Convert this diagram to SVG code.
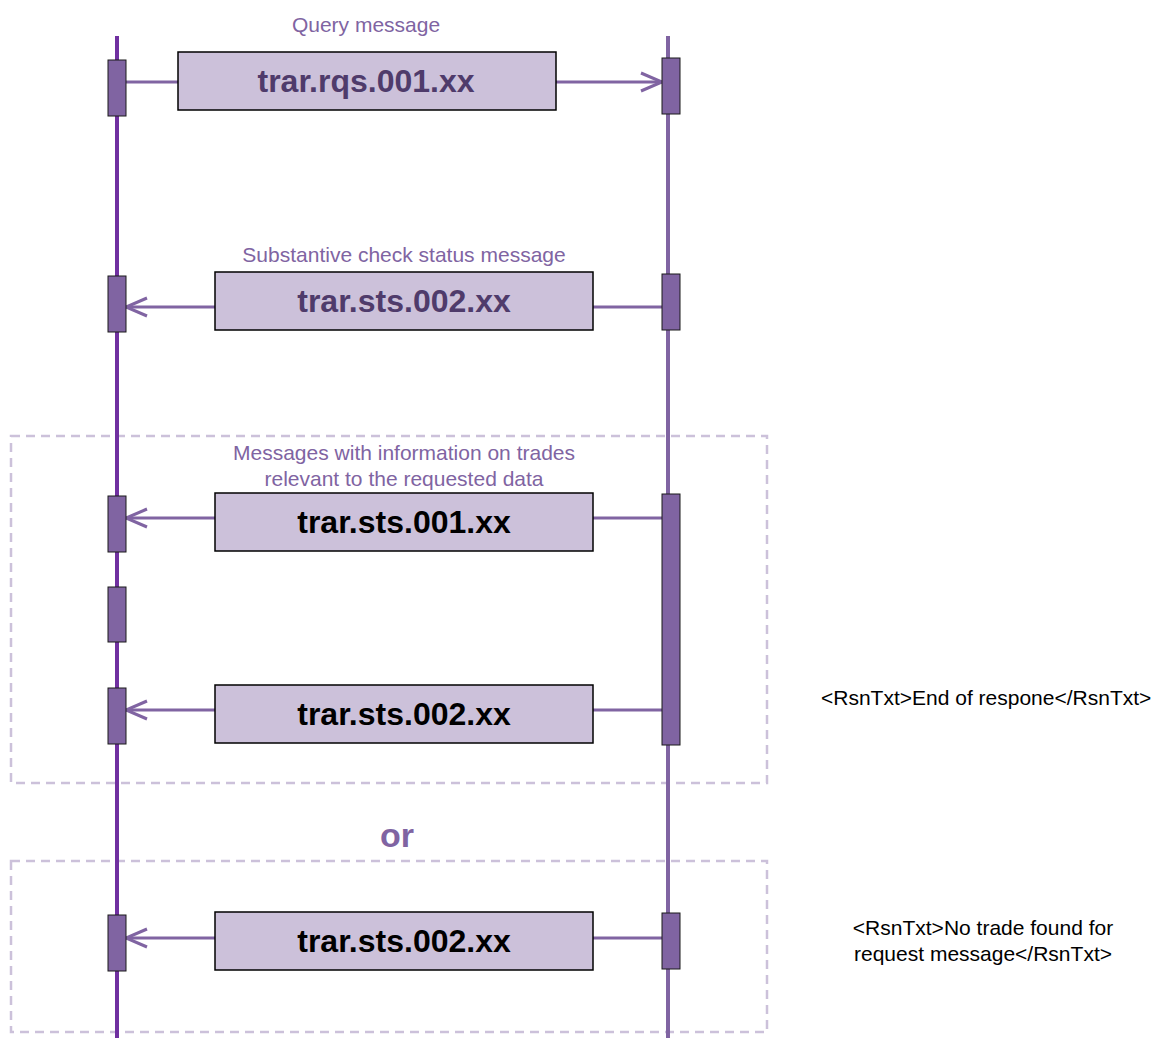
<svg xmlns="http://www.w3.org/2000/svg" width="1158" height="1038" viewBox="0 0 1158 1038">
<style>
.life{stroke-width:4;fill:none}
.act{fill:#8064A2;stroke:#1a1a1a;stroke-width:1}
.msg{fill:#CCC1DA;stroke:#000;stroke-width:1.5}
.conn{stroke:#8064A2;stroke-width:3;fill:none}
.frame{fill:none;stroke:#CCC1DA;stroke-width:2.5;stroke-dasharray:9,6}
.lbl{font-family:"Liberation Sans",Arial,sans-serif;font-size:21px;fill:#8064A2;text-anchor:middle}
.mt{font-family:"Liberation Sans",Arial,sans-serif;font-size:32px;font-weight:bold;text-anchor:middle}
.note{font-family:"Liberation Sans",Arial,sans-serif;font-size:21px;fill:#000}
</style>
<defs>
<marker id="open" markerWidth="24" markerHeight="22" refX="22" refY="11" orient="auto" markerUnits="userSpaceOnUse">
<path d="M1,2 L22,11 L1,20" fill="none" stroke="#8064A2" stroke-width="3"/>
</marker>
</defs>
<g id="frames">
<rect class="frame" x="11" y="436" width="756" height="347"/>
<rect class="frame" x="11" y="861" width="756" height="171"/>
</g>
<g id="lifelines">
<line class="life" x1="117" y1="36" x2="117" y2="1038" stroke="#7030A0"/>
<line class="life" x1="668" y1="36" x2="668" y2="1038" stroke="#8064A2"/>
</g>
<g id="connectors">
<line class="conn" x1="126" y1="82" x2="178" y2="82"/>
<line class="conn" x1="556" y1="82" x2="662" y2="82" marker-end="url(#open)"/>
<line class="conn" x1="662" y1="307" x2="593" y2="307"/>
<line class="conn" x1="215" y1="307" x2="126" y2="307" marker-end="url(#open)"/>
<line class="conn" x1="662" y1="518" x2="593" y2="518"/>
<line class="conn" x1="215" y1="518" x2="126" y2="518" marker-end="url(#open)"/>
<line class="conn" x1="662" y1="710" x2="593" y2="710"/>
<line class="conn" x1="215" y1="710" x2="126" y2="710" marker-end="url(#open)"/>
<line class="conn" x1="662" y1="938" x2="593" y2="938"/>
<line class="conn" x1="215" y1="938" x2="126" y2="938" marker-end="url(#open)"/>
</g>
<g id="activations">
<rect class="act" x="108" y="60" width="18" height="56"/>
<rect class="act" x="662" y="58" width="18" height="56"/>
<rect class="act" x="108" y="276" width="18" height="56"/>
<rect class="act" x="662" y="274" width="18" height="56"/>
<rect class="act" x="108" y="496" width="18" height="56"/>
<rect class="act" x="662" y="494" width="18" height="251"/>
<rect class="act" x="108" y="587" width="18" height="55"/>
<rect class="act" x="108" y="688" width="18" height="56"/>
<rect class="act" x="108" y="915" width="18" height="56"/>
<rect class="act" x="662" y="913" width="18" height="56"/>
</g>
<g id="msg1">
<text class="lbl" x="366" y="32">Query message</text>
<rect class="msg" x="178" y="52" width="378" height="58"/>
<text class="mt" x="366" y="92" fill="#4F3B6B">trar.rqs.001.xx</text>
</g>
<g id="msg2">
<text class="lbl" x="404" y="262">Substantive check status message</text>
<rect class="msg" x="215" y="272" width="378" height="58"/>
<text class="mt" x="404" y="312" fill="#4F3B6B">trar.sts.002.xx</text>
</g>
<g id="msg3">
<text class="lbl" x="404" y="460">Messages with information on trades</text>
<text class="lbl" x="404" y="486">relevant to the requested data</text>
<rect class="msg" x="215" y="493" width="378" height="58"/>
<text class="mt" x="404" y="533" fill="#000">trar.sts.001.xx</text>
</g>
<g id="msg4">
<rect class="msg" x="215" y="685" width="378" height="58"/>
<text class="mt" x="404" y="725" fill="#000">trar.sts.002.xx</text>
</g>
<g id="note1">
<text class="note" x="821" y="705">&lt;RsnTxt&gt;End of respone&lt;/RsnTxt&gt;</text>
</g>
<g id="or">
<text x="397" y="847" font-family="Liberation Sans, Arial, sans-serif" font-size="34" font-weight="bold" fill="#8064A2" text-anchor="middle">or</text>
</g>
<g id="msg5">
<rect class="msg" x="215" y="912" width="378" height="58"/>
<text class="mt" x="404" y="952" fill="#000">trar.sts.002.xx</text>
</g>
<g id="note2">
<text class="note" x="983" y="935" text-anchor="middle">&lt;RsnTxt&gt;No trade found for</text>
<text class="note" x="983" y="961" text-anchor="middle">request message&lt;/RsnTxt&gt;</text>
</g>
</svg>
